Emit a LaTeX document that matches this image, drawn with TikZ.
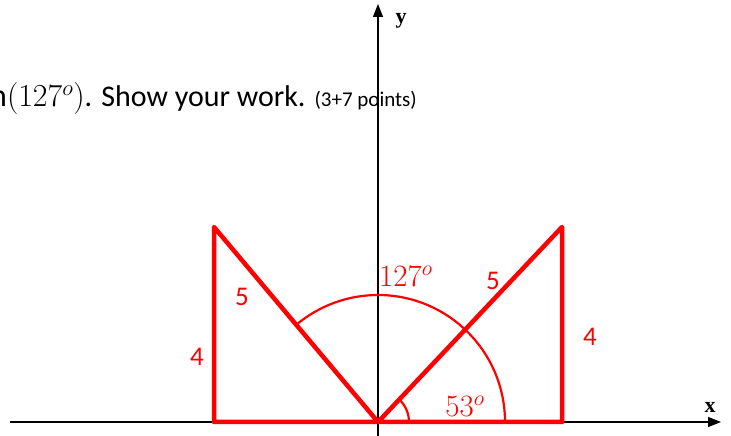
\RequirePackage{fix-cm}
\documentclass[tikz,border=0pt]{standalone}
\usepackage{amsmath}
\usepackage{fontspec}
\setmainfont{Carlito}
\newfontfamily\axisfont{Liberation Serif}
\usetikzlibrary{arrows.meta}

\begin{document}
\begin{tikzpicture}[x=1pt,y=1pt,
    axis/.style={line width=1.4pt,-{Triangle[length=13pt,width=10pt]}},
    side/.style={red,line width=4.5pt,line cap=round,line join=round},
    angarc/.style={red,line width=2.2pt},
    lbl/.style={red,inner sep=0pt,font=\fontsize{27}{30}\selectfont},
    mlbl/.style={red,inner sep=0pt,font=\fontsize{31}{34}\selectfont},
    axlbl/.style={inner sep=0pt,font=\axisfont\bfseries\fontsize{22}{24}\selectfont}]
      \useasboundingbox (0,0) rectangle (731,436);
      % points of the two triangles
      \coordinate (O) at (378,14);
      \coordinate (B) at (214,14);
      \coordinate (A) at (214,209);
      \coordinate (C) at (562,14);
      \coordinate (D) at (562,209);
      \coordinate (xl) at (10,14);
      \coordinate (xr) at (721,14);
      \coordinate (yb) at (378,0);
      \coordinate (yt) at (378,432);
      % axes
      \draw[axis] (xl) -- (xr);
      \draw[axis] (yb) -- (yt);
      \node[axlbl] (ylab) at (401,415) {y};
      \node[axlbl] (xlab) at (710,29) {x};
      % text line
      \node[anchor=base west,inner sep=0pt,font=\fontsize{30}{33}\selectfont] (task) at (-10,329)
        {{\fontsize{32}{35}\selectfont$\mathrm{n}(127^{o})$}. Show your work. {\fontsize{21}{23}\selectfont(3+7 points)}};
      % angle arcs
      \draw[angarc] ([shift={(0:127)}]O) arc[start angle=0,end angle=130.1,radius=127];
      \draw[angarc] ([shift={(0:31)}]O) arc[start angle=0,end angle=46.7,radius=31];
      % triangles
      \draw[side] (A) -- (B) -- (C) -- (D) -- (O) -- cycle;
      % labels
      \node[mlbl,anchor=west] (big) at (379,160) {$127^{o}$};
      \node[mlbl] (small) at (465,30) {$53^{o}$};
      \node[lbl] (h1) at (242,139) {5};
      \node[lbl] (h2) at (493,155) {5};
      \node[lbl] (s1) at (197,79) {4};
      \node[lbl] (s2) at (590,99) {4};
\end{tikzpicture}
\end{document}
